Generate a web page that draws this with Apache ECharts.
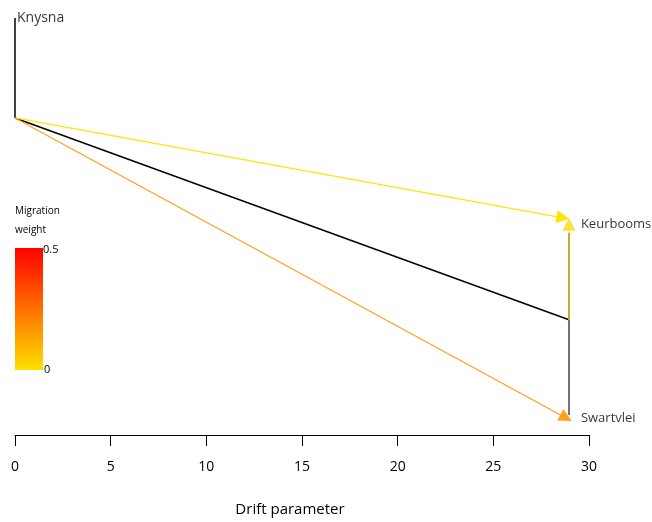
<!DOCTYPE html>
<html>
<head>
<meta charset="utf-8">
<script src="https://cdn.jsdelivr.net/npm/echarts@6/dist/echarts.min.js"></script>
<style>
body{margin:0;background:#fff;}
#main{width:652px;height:522px;}
</style>
</head>
<body>
<div id="main"></div>
<script>
// tips of the tree
var tipNames = ['Knysna', 'Keurbooms', 'Swartvlei'];
var tipX = [0, 28.95, 28.95];
var tipY = [0.981, 0.496, 0.047];
// internal nodes: root, inner node
var rootXY = [0, 0.746];
var nodeXY = [28.95, 0.271];
// migration edges (from, to, weight)
var migFrom = [[0, 0.746], [0, 0.746]];
var migTo = [[28.64, 0.511], [28.8, 0.04]];
var migWeight = [0.02, 0.2];
// axis ticks
var xTicks = [0, 5, 10, 15, 20, 25, 30];

var font = '"Open Sans", "Noto Sans", sans-serif';

function weightColor(w){
    // yellow -> orange -> red
    if(w < 0.1) return '#ffe600';
    return '#ffa020';
}

var myChart = echarts.init(document.getElementById('main'));

var migData = [];
for(var i=0;i<migFrom.length;i++){
    migData.push({
        coords: [migFrom[i], migTo[i]],
        lineStyle: {color: weightColor(migWeight[i])}
    });
}

var option = {
    animation: false,
    grid: {left: 15, right: 63, top: 10, bottom: 87},
    xAxis: {
        type: 'value',
        min: xTicks[0],
        max: xTicks[xTicks.length-1],
        interval: 5,
        name: 'Drift parameter',
        nameLocation: 'middle',
        nameGap: 67,
        nameTextStyle: {fontFamily: font, fontSize: 15, color: '#000', padding: [0, 24, 0, 0]},
        axisLine: {show: true, onZero: false, lineStyle: {color: '#000', width: 1}},
        axisTick: {show: true, length: 11, lineStyle: {color: '#000'}},
        axisLabel: {margin: 25, fontFamily: font, fontSize: 14, color: '#000'},
        splitLine: {show: false}
    },
    yAxis: {
        type: 'value', min: 0, max: 1, show: false
    },
    graphic: [
        {type: 'text', left: 15, top: 206, style: {text: 'Migration', font: '10px ' + font, fill: '#000'}},
        {type: 'text', left: 15, top: 225, style: {text: 'weight', font: '10px ' + font, fill: '#000'}},
        {type: 'rect', left: 15, top: 248, shape: {width: 28, height: 122},
            style: {fill: new echarts.graphic.LinearGradient(0, 0, 0, 1, [
                {offset: 0, color: '#ff0000'},
                {offset: 0.5, color: '#ff7000'},
                {offset: 1, color: '#ffe000'}
            ])}},
        {type: 'text', left: 43, top: 244, style: {text: '0.5', font: '11px ' + font, fill: '#000'}},
        {type: 'text', left: 44, top: 364, style: {text: '0', font: '11px ' + font, fill: '#000'}}
    ],
    series: [
        {
            // tree branches
            type: 'lines',
            coordinateSystem: 'cartesian2d',
            symbol: 'none',
            lineStyle: {color: '#000', width: 1.5, opacity: 1},
            data: [
                {coords: [[tipX[0], tipY[0]], rootXY]},
                {coords: [rootXY, nodeXY]},
                {coords: [nodeXY, [tipX[2], tipY[2]]], lineStyle: {color: '#444'}}
            ],
            z: 2
        },
        {
            // drift to Keurbooms, gold line
            type: 'lines',
            coordinateSystem: 'cartesian2d',
            symbol: 'none',
            lineStyle: {color: '#c8aa30', width: 2, opacity: 1},
            data: [{coords: [nodeXY, [tipX[1], tipY[1] - 0.02]]}],
            z: 3
        },
        {
            // arrow head on the Keurbooms branch
            type: 'lines',
            coordinateSystem: 'cartesian2d',
            symbol: ['none', 'triangle'],
            symbolSize: 13,
            lineStyle: {color: '#ffe040', width: 1, opacity: 1},
            data: [{coords: [[tipX[1], tipY[1] - 0.02], [tipX[1], tipY[1]]]}],
            z: 4
        },
        {
            // migration edges
            type: 'lines',
            coordinateSystem: 'cartesian2d',
            symbol: ['none', 'triangle'],
            symbolSize: 13,
            lineStyle: {width: 1.2, opacity: 1},
            data: migData,
            z: 4
        },
        {
            // tip labels
            type: 'scatter',
            symbolSize: 0,
            data: tipNames.map(function(n, i){
                return {name: n, value: [tipX[i], tipY[i]]};
            }),
            label: {
                show: true,
                position: 'right',
                distance: 12,
                formatter: '{b}',
                fontFamily: font,
                fontSize: 13,
                color: '#000'
            },
            z: 5
        }
    ]
};
// Knysna label sits right at the line top
option.series[4].data[0].label = {distance: 2, fontSize: 14};
option.series[4].data[2].label = {offset: [0, 3]};

myChart.setOption(option);
</script>
</body>
</html>
